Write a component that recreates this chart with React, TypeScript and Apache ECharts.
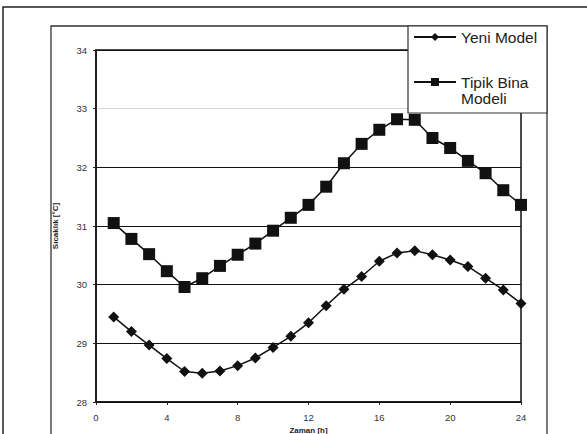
import React, { useEffect, useRef } from "react";
import * as echarts from "echarts";

const hours = [1, 2, 3, 4, 5, 6, 7, 8, 9, 10, 11, 12, 13, 14, 15, 16, 17, 18, 19, 20, 21, 22, 23, 24];
const yeniModel = [29.45, 29.2, 28.97, 28.74, 28.52, 28.49, 28.53, 28.62, 28.75, 28.93, 29.12, 29.35, 29.64, 29.92, 30.14, 30.4, 30.54, 30.58, 30.51, 30.42, 30.31, 30.11, 29.91, 29.68];
const tipikBina = [31.05, 30.78, 30.52, 30.23, 29.96, 30.11, 30.32, 30.51, 30.7, 30.92, 31.14, 31.36, 31.67, 32.07, 32.4, 32.64, 32.82, 32.81, 32.5, 32.33, 32.11, 31.9, 31.61, 31.36];
const seriesNames = ["Yeni Model", "Tipik Bina Modeli"];
const xTicks = [0, 4, 8, 12, 16, 20, 24];
const yTicks = [28, 29, 30, 31, 32, 33, 34];

const FONT = "Liberation Sans, Arial, sans-serif";

export default function App() {
  const ref = useRef<HTMLDivElement>(null);
  useEffect(() => {
    if (!ref.current) return;
    const chart = echarts.init(ref.current, null, { renderer: "svg" });
    const option: any = {
      animation: false,
      backgroundColor: "#ffffff",
      grid: {
        left: 96,
        top: 50,
        right: 66,
        bottom: 32,
        show: true,
        borderColor: "#111",
        borderWidth: 1.5,
        outerBoundsMode: "none",
        containLabel: false,
      },
      xAxis: {
        type: "value",
        min: xTicks[0],
        max: xTicks[xTicks.length - 1],
        interval: 4,
        name: "Zaman [h]",
        nameLocation: "middle",
        nameGap: 21,
        nameTextStyle: { fontFamily: FONT, fontSize: 8, fontWeight: "bold", color: "#222" },
        axisLine: { lineStyle: { color: "#111", width: 1.5 } },
        axisTick: { show: true, length: 3, lineStyle: { color: "#222" } },
        axisLabel: { fontFamily: FONT, fontSize: 9.5, color: "#333", margin: 10 },
        splitLine: { show: false },
      },
      yAxis: {
        type: "value",
        min: yTicks[0],
        max: yTicks[yTicks.length - 1],
        interval: 1,
        name: "Sıcaklık [°C]",
        nameLocation: "middle",
        nameGap: 37,
        nameRotate: 90,
        nameTextStyle: { fontFamily: FONT, fontSize: 8, fontWeight: "bold", color: "#222" },
        axisLine: { show: true, lineStyle: { color: "#111", width: 1.5 } },
        axisTick: { show: true, length: 3, lineStyle: { color: "#222" } },
        axisLabel: { fontFamily: FONT, fontSize: 9.5, color: "#333", margin: 9 },
        splitLine: {
          show: true,
          lineStyle: {
            color: ["#111", "#111", "#111", "#111", "#111", "#d8d8d8", "#111"],
            width: 1.2,
          },
        },
      },
      legend: {
        show: true,
        orient: "vertical",
        left: 408,
        top: 24,
        itemWidth: 42,
        itemHeight: 10,
        itemGap: 13,
        z: 20,
        data: seriesNames,
        formatter: (n: string) => (n === "Tipik Bina Modeli" ? "\nTipik Bina\nModeli" : n),
        textStyle: {
          fontFamily: FONT,
          fontSize: 15.5,
          color: "#222",
          lineHeight: 16,
        },
      },
      graphic: [
        {
          type: "rect",
          z: 1,
          silent: true,
          shape: { x: 3, y: 7, width: 640, height: 520 },
          style: { fill: "none", stroke: "#222", lineWidth: 1.5 },
        },
        {
          type: "rect",
          z: 1,
          silent: true,
          shape: { x: 51, y: 26, width: 496, height: 480 },
          style: { fill: "none", stroke: "#333", lineWidth: 1.3 },
        },
        {
          type: "rect",
          z: 15,
          silent: true,
          shape: { x: 408, y: 26, width: 139, height: 87 },
          style: { fill: "#ffffff", stroke: "#333", lineWidth: 1.2 },
        },
      ],
      series: [
        {
          name: seriesNames[0],
          type: "line",
          data: hours.map((h, i) => [h, yeniModel[i]]),
          symbol: "diamond",
          symbolSize: 11,
          lineStyle: { color: "#111", width: 1.5 },
          itemStyle: { color: "#111" },
          z: 5,
        },
        {
          name: seriesNames[1],
          type: "line",
          data: hours.map((h, i) => [h, tipikBina[i]]),
          symbol: "rect",
          symbolSize: 12,
          lineStyle: { color: "#111", width: 1.5 },
          itemStyle: { color: "#111" },
          z: 5,
        },
      ],
    };
    chart.setOption(option);
    return () => chart.dispose();
  }, []);
  return (
    <div
      ref={ref}
      style={{ position: "fixed", left: 0, top: 0, width: 587, height: 434, background: "#fff" }}
    />
  );
}
